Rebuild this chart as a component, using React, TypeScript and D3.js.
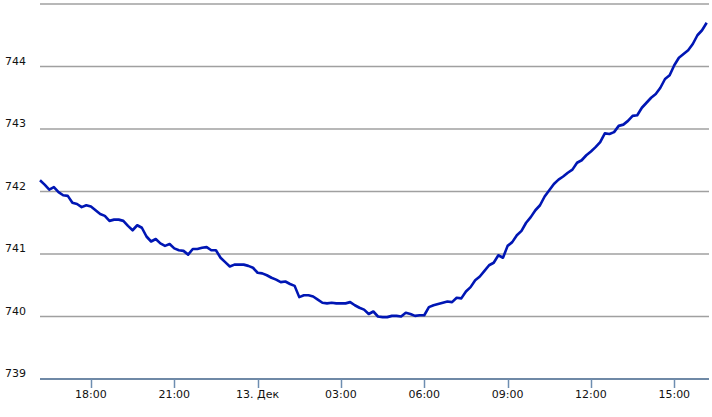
import React, { useEffect, useRef } from "react";
import * as d3 from "d3";

// pressure readings, one every 10 minutes from 12 Dec 16:10
const startTime = new Date(2012, 11, 12, 16, 10);
const endTime = new Date(2012, 11, 13, 16, 15);
const stepMinutes = 10;

const pressure = [
  742.18, 742.11, 742.03, 742.07, 741.99, 741.94, 741.93, 741.82, 741.8, 741.75,
  741.78, 741.76, 741.7, 741.64, 741.61, 741.53, 741.55, 741.55, 741.53, 741.45,
  741.38, 741.46, 741.42, 741.28, 741.2, 741.24, 741.17, 741.13, 741.16, 741.09,
  741.06, 741.05, 740.99, 741.08, 741.08, 741.1, 741.11, 741.06, 741.06, 740.94,
  740.87, 740.8, 740.83, 740.83, 740.83, 740.81, 740.78, 740.7, 740.69, 740.66,
  740.62, 740.59, 740.55, 740.56, 740.52, 740.49, 740.31, 740.34, 740.34, 740.32,
  740.27, 740.22, 740.21, 740.22, 740.21, 740.21, 740.21, 740.23, 740.18, 740.14,
  740.11, 740.04, 740.08, 740.0, 739.99, 739.99, 740.01, 740.01, 740.0, 740.06,
  740.04, 740.01, 740.02, 740.02, 740.15, 740.18, 740.2, 740.22, 740.24, 740.23,
  740.3, 740.29, 740.4, 740.47, 740.58, 740.64, 740.73, 740.82, 740.86, 740.98,
  740.94, 741.13, 741.19, 741.3, 741.37, 741.5, 741.59, 741.7, 741.78, 741.92,
  742.02, 742.12, 742.19, 742.24, 742.3, 742.35, 742.46, 742.5, 742.58, 742.64,
  742.71, 742.79, 742.93, 742.92, 742.95, 743.05, 743.07, 743.13, 743.21, 743.22,
  743.34, 743.42, 743.5, 743.56, 743.66, 743.8, 743.86, 744.02, 744.14, 744.2,
  744.26, 744.36, 744.5, 744.58, 744.7,
];

const yTicks = [739, 740, 741, 742, 743, 744, 745];
const yLabels = ["739", "740", "741", "742", "743", "744", ""];

const monthsRu = ["Янв", "Фев", "Мар", "Апр", "Май", "Июн", "Июл", "Авг", "Сен", "Окт", "Ноя", "Дек"];

const App: React.FC = () => {
  const svgRef = useRef<SVGSVGElement>(null);

  useEffect(() => {
    if (!svgRef.current) return;
    const svg = d3.select(svgRef.current);
    const width = 712;
    const height = 417;
    const left = 40;
    const right = 709;
    const top = 4;
    const bottom = 379;

    svg.attr("width", width).attr("height", height);

    const data = pressure.map((v, i) => ({
      t: d3.timeMinute.offset(startTime, i * stepMinutes),
      v,
    }));

    const x = d3.scaleTime().domain([startTime, endTime]).range([left, right]);
    const y = d3.scaleLinear().domain([739, 745]).range([bottom, top]);

    const font = "'DejaVu Sans', Verdana, sans-serif";

    // grid lines
    svg
      .append("g")
      .selectAll("line")
      .data(yTicks.filter((d) => d !== 739))
      .enter()
      .append("line")
      .attr("x1", left)
      .attr("x2", right)
      .attr("y1", (d) => y(d))
      .attr("y2", (d) => y(d))
      .attr("stroke", "#a0a0a0")
      .attr("stroke-width", 1.5);

    // y labels
    svg
      .append("g")
      .selectAll("text")
      .data(yTicks)
      .enter()
      .append("text")
      .attr("x", 5)
      .attr("y", (d) => y(d) - 2)
      .attr("font-family", font)
      .attr("font-size", 11)
      .attr("fill", "#111")
      .text((d, i) => yLabels[i]);

    // x axis
    const xTicks = d3.timeHour.every(3)!.range(startTime, endTime);
    svg
      .append("line")
      .attr("x1", left)
      .attr("x2", right)
      .attr("y1", bottom)
      .attr("y2", bottom)
      .attr("stroke", "#3f6288")
      .attr("stroke-width", 1.5);

    const tg = svg.append("g").selectAll("g").data(xTicks).enter().append("g");
    tg.append("line")
      .attr("x1", (d) => Math.round(x(d)) + 0.5)
      .attr("x2", (d) => Math.round(x(d)) + 0.5)
      .attr("y1", bottom)
      .attr("y2", bottom + 9)
      .attr("stroke", "#6d8db0")
      .attr("stroke-width", 1.5);
    tg.append("text")
      .attr("x", (d) => x(d))
      .attr("y", bottom + 19)
      .attr("text-anchor", "middle")
      .attr("font-family", font)
      .attr("font-size", 11)
      .attr("fill", "#111")
      .text((d) =>
        d.getHours() === 0 ? `${d.getDate()}. ${monthsRu[d.getMonth()]}` : d3.timeFormat("%H:%M")(d)
      );

    // series
    const line = d3
      .line<{ t: Date; v: number }>()
      .x((d) => x(d.t))
      .y((d) => y(d.v));

    svg
      .append("path")
      .datum(data)
      .attr("fill", "none")
      .attr("stroke", "#0016b4")
      .attr("stroke-width", 2.6)
      .attr("stroke-linejoin", "round")
      .attr("d", line);

    return () => {
      svg.selectAll("*").remove();
    };
  }, []);

  return (
    <svg
      ref={svgRef}
      style={{ position: "absolute", left: 0, top: 0, background: "#fff" }}
    />
  );
};

export default App;
